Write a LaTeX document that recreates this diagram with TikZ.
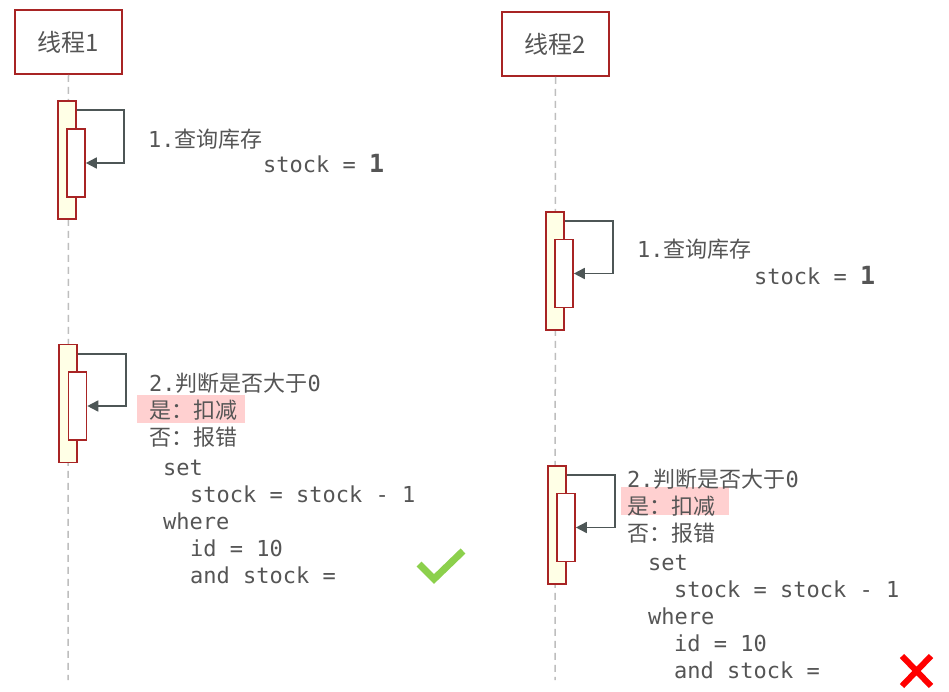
\documentclass[tikz,border=0pt]{standalone}
\usepackage{fontspec}
\setmonofont{DejaVu Sans Mono}
\newfontfamily\cjk{Noto Sans CJK SC}
\newfontfamily\boldsans{DejaVu Sans Mono}
\usetikzlibrary{arrows.meta,calc}
\definecolor{barred}{RGB}{168,36,36}
\definecolor{baryellow}{RGB}{255,255,230}
\definecolor{arrowgrey}{RGB}{77,86,86}
\definecolor{txtgrey}{RGB}{85,85,85}
\definecolor{pinkhl}{RGB}{255,208,208}
\definecolor{okgreen}{RGB}{140,208,76}
\definecolor{lifegrey}{RGB}{190,190,190}
\tikzset{
  header/.style={draw=barred, line width=1.6pt, fill=white, minimum width=107pt, minimum height=64pt, inner sep=0pt, text=txtgrey, font=\cjk\fontsize{24}{28}\selectfont},
  outerbar/.style={draw=barred, line width=1.6pt, fill=baryellow, minimum width=18pt, minimum height=118pt, inner sep=0pt},
  innerbar/.style={draw=barred, line width=1.6pt, fill=white, minimum width=18pt, minimum height=68pt, inner sep=0pt},
  lifeline/.style={draw=lifegrey, line width=1.5pt, dash pattern=on 7pt off 5pt},
  selfmsg/.style={draw=arrowgrey, line width=1.6pt, -{Triangle[length=11pt,width=11pt]}},
  txtline/.style={anchor=base west, inner sep=0pt, text=txtgrey, font=\ttfamily\fontsize{22}{27}\selectfont},
  hlbox/.style={fill=pinkhl, inner sep=0pt, minimum width=108pt, minimum height=28pt},
}
\newcommand{\bigone}{{\fontsize{25}{27}\selectfont\bfseries 1}}
\begin{document}
\begin{tikzpicture}[x=1pt,y=-1pt]
\useasboundingbox[fill=white] (0,0) rectangle (949,692);
% headers
\node[header] (h1) at (68.5,42) {线程1};
\node[header] (h2) at (555.5,44) {线程2};
% lifelines
\coordinate (e1) at (68,680);
\coordinate (e2) at (555,680);
\draw[lifeline] (h1.south) -- (e1);
\draw[lifeline] (h2.south) -- (e2);
% thread 1 bars
\node[outerbar] (o1a) at (67,160) {};
\node[innerbar] (i1a) at (76,163) {};
\node[outerbar] (o1b) at (68,403.5) {};
\node[innerbar] (i1b) at (77.5,406) {};
% thread 2 bars
\node[outerbar] (o2a) at (555,271) {};
\node[innerbar] (i2a) at (564,273.5) {};
\node[outerbar] (o2b) at (557,525) {};
\node[innerbar] (i2b) at (566,527.5) {};
% self messages
\draw[selfmsg] ($(o1a.north east)+(0,10)$) -- ++(47,0) |- (i1a.east);
\draw[selfmsg] ($(o1b.north east)+(0,10)$) -- ++(48,0) |- (i1b.east);
\draw[selfmsg] ($(o2a.north east)+(0,10)$) -- ++(48,0) |- (i2a.east);
\draw[selfmsg] ($(o2b.north east)+(0,10)$) -- ++(48,0) |- (i2b.east);
% highlights
\node[hlbox] (hl1) at (191,409) {};
\node[hlbox] (hl2) at (675,501) {};
% thread 1 texts
\node[txtline] (t1q) at (148,148) {1.{\cjk 查询库存}};
\node[txtline] (t1s) at (263,173) {stock = \bigone};
\node[txtline] (t1j) at (149,391) {2.{\cjk 判断是否大于}0};
\node[txtline] (t1y) at (149,418) {{\cjk 是：扣减}};
\node[txtline] (t1n) at (149,445) {{\cjk 否：报错}};
\node[txtline] (t1a) at (163,475) {set};
\node[txtline] (t1b) at (190,502) {stock = stock - 1};
\node[txtline] (t1c) at (163,529) {where};
\node[txtline] (t1d) at (190,556) {id = 10};
\node[txtline] (t1e) at (190,583) {and stock =};
% thread 2 texts
\node[txtline] (t2q) at (637,258) {1.{\cjk 查询库存}};
\node[txtline] (t2s) at (754,284) {stock = \bigone};
\node[txtline] (t2j) at (627,487) {2.{\cjk 判断是否大于}0};
\node[txtline] (t2y) at (627,514) {{\cjk 是：扣减}};
\node[txtline] (t2n) at (627,541) {{\cjk 否：报错}};
\node[txtline] (t2a) at (648,570) {set};
\node[txtline] (t2b) at (674,597) {stock = stock - 1};
\node[txtline] (t2c) at (648,624) {where};
\node[txtline] (t2d) at (674,651) {id = 10};
\node[txtline] (t2e) at (674,678) {and stock =};
% check mark
\coordinate (c1) at (419,564);
\coordinate (c2) at (434,579);
\coordinate (c3) at (463,551);
\draw[okgreen, line width=7pt] (c1) -- (c2) -- (c3);
% cross
\coordinate (x1) at (902,656);
\coordinate (x2) at (931,686);
\coordinate (x3) at (931,656);
\coordinate (x4) at (902,686);
\draw[red, line width=6pt] (x1) -- (x2) (x3) -- (x4);
\end{tikzpicture}
\end{document}
